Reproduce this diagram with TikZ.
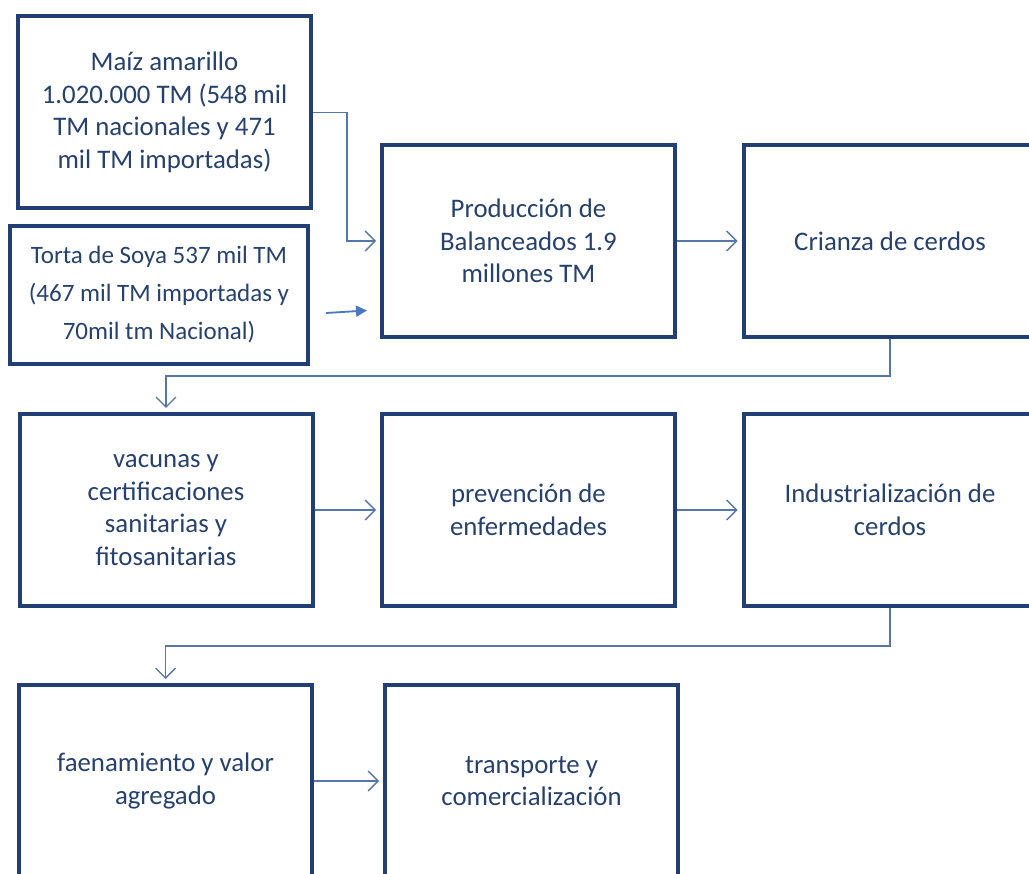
\documentclass[tikz,border=0pt]{standalone}
\usepackage{fontspec}
\setmainfont{Carlito}
\usetikzlibrary{arrows.meta}
\definecolor{boxc}{HTML}{213F72}
\definecolor{txtc}{HTML}{26416E}
\definecolor{linec}{HTML}{5576A8}
\definecolor{arrc}{HTML}{4A78C0}
\tikzset{
  stage/.style={draw=boxc, line width=4pt, minimum width=293pt, minimum height=192pt,
    inner sep=0pt, align=center, text=txtc, font=\fontsize{26.8}{32.5}\selectfont},
  conn/.style={draw=linec, line width=1.4pt, -{Straight Barb[length=10pt,width=20pt,line width=1.4pt]}, shorten >=4pt},
  conn2/.style={draw=arrc, line width=1.8pt, -{Triangle[length=11pt,width=11pt]}}
}
\begin{document}
\begin{tikzpicture}[x=1pt,y=1pt]
\useasboundingbox (0,0) rectangle (1029,-874);
\clip (0,0) rectangle (1029,-874);
\fill[white] (0,0) rectangle (1029,-874);
\node[stage] (maiz) at (164.5,-112.5) {Maíz amarillo\\1.020.000 TM (548 mil\\TM nacionales y 471\\mil TM importadas)};
\node[stage, minimum width=298pt, minimum height=138pt, font=\fontsize{25}{38}\selectfont] (soya) at (159,-295) {Torta de Soya 537 mil TM\\(467 mil TM importadas y\\70mil tm Nacional)};
\node[stage] (prod) at (528.5,-241) {Producción de\\Balanceados 1.9\\millones TM};
\node[stage] (cria) at (890,-241) {Crianza de cerdos};
\node[stage] (vac) at (166,-510) {vacunas y\\certificaciones\\sanitarias y\\fitosanitarias};
\node[stage] (prev) at (528.5,-510) {prevención de\\enfermedades};
\node[stage] (ind) at (890,-510) {Industrialización de\\cerdos};
\node[stage] (faen) at (165.5,-781) {faenamiento y valor\\agregado};
\node[stage] (trans) at (531.5,-781) {transporte y\\comercialización};
\coordinate (m1) at (347,-112.5);
\coordinate (s1) at (326,-313);
\coordinate (s2) at (367,-310.5);
\coordinate (c1) at (890,-376);
\coordinate (i1) at (890,-646);
\draw[conn] (maiz.east) -- (m1) |- (prod.west);
\draw[conn2] (s1) -- (s2);
\draw[conn] (prod.east) -- (cria.west);
\draw[conn] (cria.south) -- (c1) -| (vac.north);
\draw[conn] (vac.east) -- (prev.west);
\draw[conn] (prev.east) -- (ind.west);
\draw[conn] (ind.south) -- (i1) -| (faen.north);
\draw[conn] (faen.east) -- (trans.west);
\end{tikzpicture}
\end{document}
